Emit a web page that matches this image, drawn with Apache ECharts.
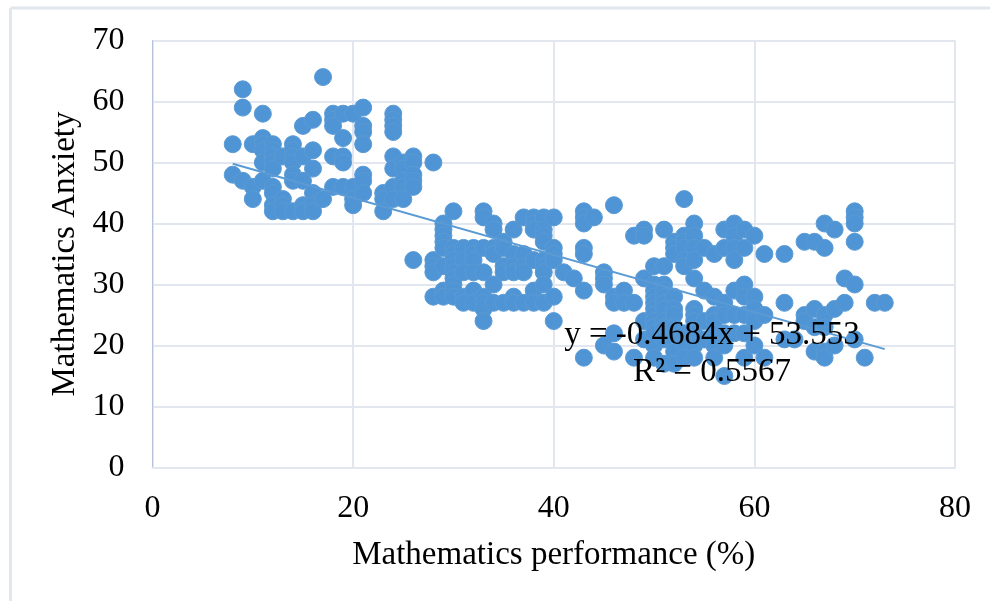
<!DOCTYPE html>
<html><head><meta charset="utf-8">
<style>html,body{margin:0;padding:0;background:#fff}#c{width:990px;height:601px}</style>
<script src="https://cdn.jsdelivr.net/npm/echarts@6/dist/echarts.min.js"></script>
</head><body><div id="c"></div>
<script>
const lowPerformers = [[8,53],[8,48],[9,62],[9,59],[9,47],[10,53],[10,46],[10,44],[11,58],[11,54],[11,53],[11,52],[11,50],[11,47],[12,53],[12,52],[12,51],[12,50],[12,49],[12,46],[12,45],[12,43],[12,42],[13,51],[13,44],[13,43],[13,42],[14,53],[14,52],[14,51],[14,50],[14,48],[14,47],[14,42],[15,56],[15,51],[15,47],[15,43],[15,42],[16,57],[16,52],[16,49],[16,45],[16,43],[16,42],[17,64],[17,44],[18,58],[18,57],[18,56],[18,51],[18,46],[19,58],[19,54],[19,51],[19,50],[19,46],[20,58],[20,46],[20,44],[20,43],[21,59],[21,56],[21,55],[21,53],[21,48],[21,47],[21,45],[23,45],[23,44],[23,42],[24,58],[24,57],[24,56],[24,55],[24,51],[24,49],[24,46],[24,44],[25,50],[25,49],[25,47],[25,46],[25,44],[26,51],[26,50],[26,48],[26,47],[26,46],[28,50]];
const midPerformers = [[26,34],[28,34],[28,33],[28,32],[28,28],[29,40],[29,39],[29,38],[29,37],[29,36],[29,33],[29,29],[29,28],[30,42],[30,36],[30,35],[30,34],[30,33],[30,32],[30,31],[30,30],[30,29],[30,28],[31,36],[31,34],[31,32],[31,28],[31,27],[32,36],[32,35],[32,34],[32,32],[32,29],[32,27],[33,42],[33,41],[33,36],[33,32],[33,28],[33,27],[33,26],[33,24],[34,40],[34,39],[34,36],[34,35],[34,30],[34,27],[35,37],[35,36],[35,33],[35,32],[35,27],[36,39],[36,35],[36,33],[36,32],[36,28],[36,27],[37,41],[37,35],[37,33],[37,32],[37,27],[38,41],[38,40],[38,39],[38,34],[38,29],[38,27],[39,41],[39,39],[39,38],[39,37],[39,34],[39,33],[39,32],[39,30],[39,27],[40,41],[40,36],[40,35],[40,34],[40,28],[40,24],[41,32],[42,31],[43,42],[43,41],[43,40],[43,36],[43,35],[43,29],[43,18],[44,41],[45,32],[45,31],[45,30],[45,20],[46,43],[46,28],[46,27],[46,22],[46,19],[47,29],[47,27],[48,38],[48,27],[48,18],[49,39],[49,38],[49,31],[49,24],[49,21]];
const highPerformers = [[50,33],[50,30],[50,29],[50,28],[50,27],[50,26],[50,25],[50,24],[50,23],[50,22],[50,20],[50,18],[51,39],[51,33],[51,30],[51,29],[51,28],[51,27],[51,26],[51,24],[51,23],[51,22],[51,21],[51,17],[52,37],[52,36],[52,35],[52,28],[52,26],[52,25],[52,23],[52,21],[52,19],[52,17],[53,44],[53,38],[53,37],[53,36],[53,34],[53,33],[53,22],[53,20],[53,18],[54,40],[54,38],[54,36],[54,34],[54,31],[54,26],[54,25],[54,24],[54,22],[54,20],[54,18],[55,36],[55,29],[55,24],[55,21],[56,35],[56,28],[56,25],[56,24],[56,22],[56,20],[56,18],[57,39],[57,36],[57,27],[57,25],[57,22],[57,20],[57,15],[58,40],[58,38],[58,36],[58,34],[58,29],[58,25],[58,22],[59,39],[59,36],[59,30],[59,28],[59,25],[59,22],[59,18],[60,38],[60,28],[60,26],[60,24],[60,20],[61,35],[61,25],[61,18],[63,35],[63,27],[63,21],[64,21],[65,25],[65,24],[65,37],[66,37],[66,26],[66,23],[66,19],[67,40],[67,36],[67,25],[67,23],[67,19],[67,18],[68,39],[68,26],[68,20],[69,31],[69,27],[70,42],[70,41],[70,40],[70,37],[70,30],[70,21],[71,18],[72,27],[73,27]];
const trendEnds = [[8,49.8],[73,19.4]];
const trendLabel = 'y = -0.4684x + 53.553\nR² = 0.5567';
const xTitle = 'Mathematics performance (%)';
const yTitle = 'Mathematics Anxiety';

const serif = '"Liberation Serif","Times New Roman",serif';
const chart = echarts.init(document.getElementById('c'), null, {renderer:'canvas'});
const gridStyle = {color:'#e2e6ee', width:2};
const frame = {stroke:'#e2e6ee', lineWidth:3};
chart.setOption({
  animation:false,
  backgroundColor:'#fff',
  grid:{left:152.5, top:40.5, width:802.5, height:427},
  xAxis:{type:'value',min:0,max:80,interval:20,
    name:xTitle,nameLocation:'middle',nameGap:71,
    nameTextStyle:{fontFamily:serif,fontSize:33,color:'#000'},
    axisLine:{show:true,onZero:false,lineStyle:{color:'#e2e6ee',width:2}},
    axisTick:{show:false},
    axisLabel:{fontFamily:serif,fontSize:32,color:'#000',margin:25},
    splitLine:{show:true,lineStyle:gridStyle}},
  yAxis:{type:'value',min:0,max:70,interval:10,
    name:yTitle,nameLocation:'middle',nameGap:70,
    nameTextStyle:{fontFamily:serif,fontSize:33,color:'#000'},
    axisLine:{show:true,onZero:false,lineStyle:{color:'#b5c1d8',width:1}},
    axisTick:{show:false},
    axisLabel:{fontFamily:serif,fontSize:32,color:'#000',margin:28,padding:[3,0,0,0]},
    splitLine:{show:true,lineStyle:gridStyle}},
  series:[
    {name:'Low',type:'scatter',data:lowPerformers},
    {name:'Mid',type:'scatter',data:midPerformers},
    {name:'High',type:'scatter',data:highPerformers}
  ].map(s=>Object.assign(s,{symbol:'circle',symbolSize:17,z:3,
    itemStyle:{color:'#4f94d4',opacity:1,borderColor:'#5b9bd5',borderWidth:1}})).concat([
    {name:'Trend',type:'line',data:trendEnds,symbol:'none',z:4,
     lineStyle:{color:'#5b9bd5',width:2}}
  ]),
  graphic:[
    {type:'line',z:0,shape:{x1:10.5,y1:8,x2:10.5,y2:601},style:frame},
    {type:'line',z:0,shape:{x1:10.5,y1:8,x2:990,y2:8},style:frame},
    {type:'text',z:100,x:712,y:317,style:{text:trendLabel,fontFamily:serif,fontSize:33,lineHeight:37,fill:'#000',align:'center'}}
  ]
});
</script></body></html>
